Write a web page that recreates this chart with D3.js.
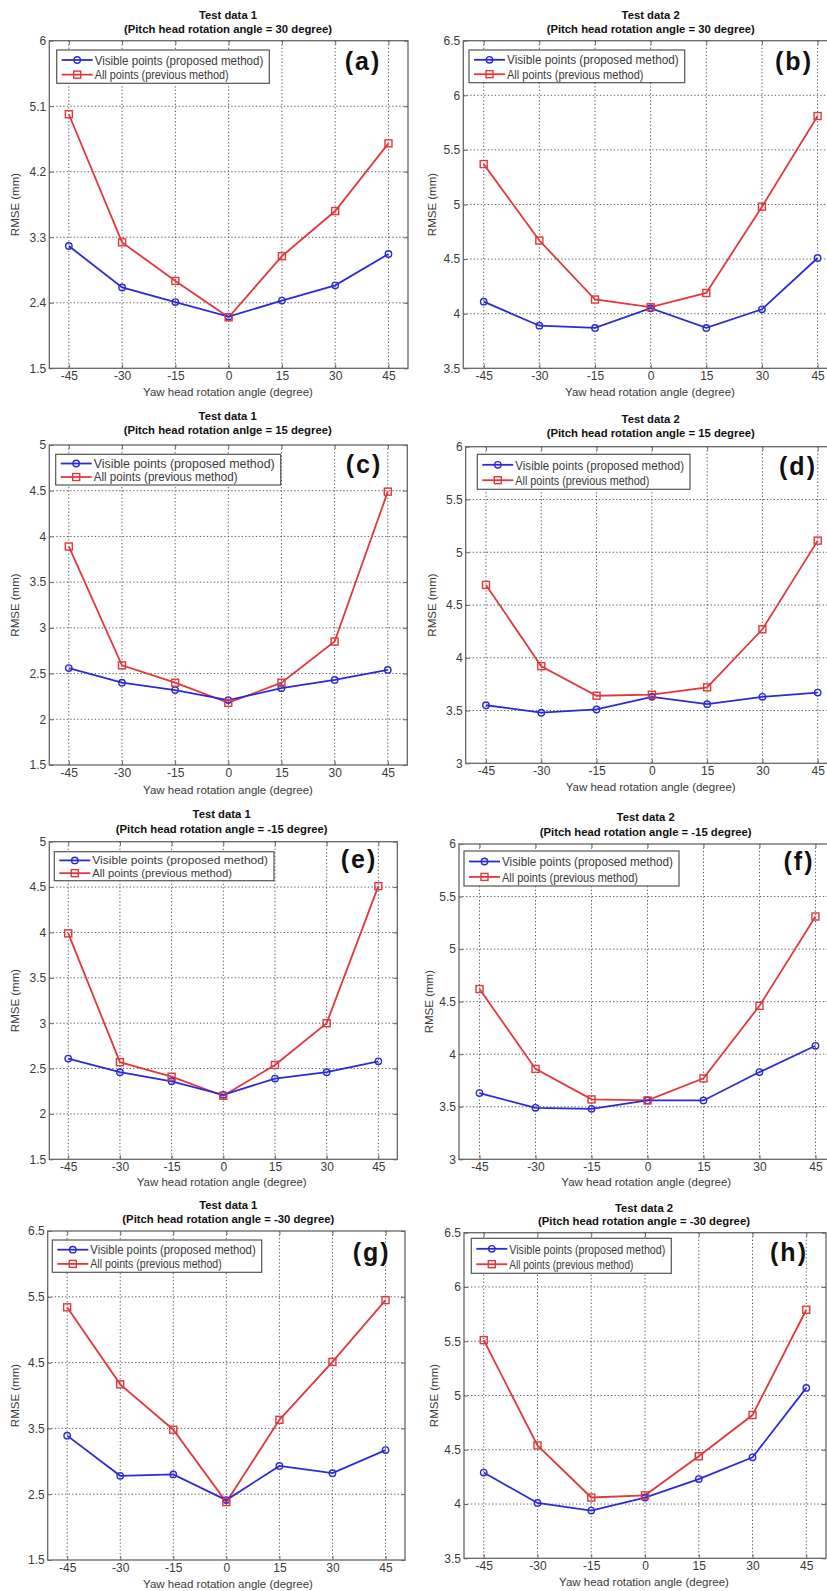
<!DOCTYPE html>
<html><head><meta charset="utf-8">
<script src="https://cdn.jsdelivr.net/npm/d3@7"></script>
<style>
html,body{margin:0;padding:0;background:#fff;}
svg{display:block;font-family:"Liberation Sans",Arial,sans-serif;}
</style></head>
<body>
<svg id="chart" width="827" height="1591"></svg>
<script>
// ---------- DATA ----------
const categories = [-45, -30, -15, 0, 15, 30, 45];
const xTickLabels = ["-45", "-30", "-15", "0", "15", "30", "45"];
const panelIds = ["a", "b", "c", "d", "e", "f", "g", "h"];
const seriesNames = ["Visible points (proposed method)", "All points (previous method)"];
const titleLine1 = ["Test data 1", "Test data 2", "Test data 1", "Test data 2", "Test data 1", "Test data 2", "Test data 1", "Test data 2"];
const titleLine2 = [
  "(Pitch head rotation angle = 30 degree)",
  "(Pitch head rotation angle = 30 degree)",
  "(Pitch head rotation anlge = 15 degree)",
  "(Pitch head rotation angle = 15 degree)",
  "(Pitch head rotation angle = -15 degree)",
  "(Pitch head rotation angle = -15 degree)",
  "(Pitch head rotation angle = -30 degree)",
  "(Pitch head rotation angle = -30 degree)"
];
const xLabel = "Yaw head rotation angle (degree)";
const yLabel = "RMSE (mm)";

const visible_a = [3.18, 2.61, 2.41, 2.21, 2.43, 2.64, 3.07];
const all_a     = [4.99, 3.23, 2.70, 2.20, 3.04, 3.66, 4.59];
const visible_b = [4.11, 3.89, 3.87, 4.05, 3.87, 4.04, 4.51];
const all_b     = [5.37, 4.67, 4.13, 4.06, 4.19, 4.98, 5.81];
const visible_c = [2.56, 2.40, 2.32, 2.21, 2.34, 2.43, 2.54];
const all_c     = [3.89, 2.59, 2.40, 2.18, 2.40, 2.85, 4.49];
const visible_d = [3.55, 3.48, 3.51, 3.63, 3.56, 3.63, 3.67];
const all_d     = [4.69, 3.92, 3.64, 3.65, 3.72, 4.27, 5.11];
const visible_e = [2.61, 2.46, 2.36, 2.21, 2.39, 2.46, 2.58];
const all_e     = [3.99, 2.57, 2.41, 2.20, 2.54, 3.00, 4.51];
const visible_f = [3.63, 3.49, 3.48, 3.56, 3.56, 3.83, 4.08];
const all_f     = [4.62, 3.86, 3.57, 3.56, 3.77, 4.46, 5.31];
const visible_g = [3.39, 2.78, 2.80, 2.41, 2.93, 2.82, 3.17];
const all_g     = [5.34, 4.17, 3.48, 2.38, 3.63, 4.51, 5.45];
const visible_h = [4.29, 4.01, 3.94, 4.06, 4.23, 4.43, 5.07];
const all_h     = [5.51, 4.54, 4.06, 4.08, 4.44, 4.82, 5.79];

const yTicks_a = [1.5, 2.4, 3.3, 4.2, 5.1, 6];
const yTicks_b = [3.5, 4, 4.5, 5, 5.5, 6, 6.5];
const yTicks_c = [1.5, 2, 2.5, 3, 3.5, 4, 4.5, 5];
const yTicks_d = [3, 3.5, 4, 4.5, 5, 5.5, 6];
const yTicks_e = [1.5, 2, 2.5, 3, 3.5, 4, 4.5, 5];
const yTicks_f = [3, 3.5, 4, 4.5, 5, 5.5, 6];
const yTicks_g = [1.5, 2.5, 3.5, 4.5, 5.5, 6.5];
const yTicks_h = [3.5, 4, 4.5, 5, 5.5, 6, 6.5];

const visibleSeries = [visible_a, visible_b, visible_c, visible_d, visible_e, visible_f, visible_g, visible_h];
const allSeries = [all_a, all_b, all_c, all_d, all_e, all_f, all_g, all_h];
const yTickSets = [yTicks_a, yTicks_b, yTicks_c, yTicks_d, yTicks_e, yTicks_f, yTicks_g, yTicks_h];

// ---------- LAYOUT (pixel geometry, separate from data) ----------
const layout = [
  {box:[49.3, 40.7, 408, 368.3], legend:[56.7, 50, 269.3, 83.3], letter:[363, 61], title:[228, 15, 29.3], xlab:[228, 391.5], ylabX:15},
  {box:[463.3, 40.7, 838, 368.3], legend:[469, 50, 684.7, 82.7], letter:[794, 61], title:[650.7, 15, 29.3], xlab:[650, 391.5], ylabX:432},
  {box:[49.3, 445, 407.3, 765], legend:[55.7, 454.3, 280.7, 485], letter:[364, 464], title:[227.7, 415.7, 430], xlab:[228, 789.5], ylabX:15},
  {box:[465.7, 446.7, 838, 763.3], legend:[477.3, 454.3, 690, 489.3], letter:[798, 466], title:[650.7, 419, 432.7], xlab:[650.7, 787], ylabX:432},
  {box:[49.3, 841.7, 397.3, 1159.3], legend:[54.3, 851.7, 274, 880.7], letter:[359, 859], title:[221.7, 814, 829], xlab:[221.7, 1182], ylabX:15},
  {box:[459, 844, 836, 1159.3], legend:[464, 851, 679, 886], letter:[799, 861], title:[645.7, 817.3, 831.7], xlab:[646.3, 1182], ylabX:429},
  {box:[47.7, 1231, 405, 1560], legend:[52.3, 1240, 261.7, 1272.3], letter:[371.7, 1252.5], title:[228.3, 1205, 1219.3], xlab:[228, 1584], ylabX:15},
  {box:[464, 1232.7, 826, 1558.3], legend:[471.3, 1238.3, 671.3, 1273.3], letter:[789, 1252.5], title:[644, 1208.3, 1221], xlab:[644, 1581.5], ylabX:434}
];

const BLUE = "#2b2bd6", RED = "#e0383c";
const svg = d3.select("#chart");
const fmt = d3.format("~g");

panelIds.forEach((id, i) => {
  const L = layout[i];
  const [bl, bt, br, bb] = L.box;
  const ticks = yTickSets[i];
  const x = d3.scaleLinear().domain([-50.5, 50.5]).range([bl, br]);
  const y = d3.scaleLinear().domain([d3.min(ticks), d3.max(ticks)]).range([bb, bt]);
  const g = svg.append("g");

  // grid
  g.append("g").selectAll("line").data(categories).join("line")
    .attr("x1", d => x(d)).attr("x2", d => x(d)).attr("y1", bt).attr("y2", bb)
    .attr("stroke", "#5a5a5a").attr("stroke-width", 1).attr("stroke-dasharray", "1.3,2.2");
  g.append("g").selectAll("line").data(ticks.slice(1, -1)).join("line")
    .attr("x1", bl).attr("x2", br).attr("y1", d => y(d)).attr("y2", d => y(d))
    .attr("stroke", "#5a5a5a").attr("stroke-width", 1).attr("stroke-dasharray", "1.3,2.2");

  // axes (inward ticks like MATLAB)
  const xAxB = d3.axisBottom(x).tickValues(categories).tickSize(-4).tickPadding(3)
    .tickFormat((d, k) => xTickLabels[k]);
  const gx = g.append("g").attr("transform", `translate(0,${bb})`).call(xAxB);
  gx.select(".domain").remove();
  gx.selectAll("line").attr("stroke", "#666");
  gx.selectAll("text").attr("font-size", 12).attr("fill", "#3a3a3a").attr("font-family", "Liberation Sans, Arial, sans-serif");
  const gxt = g.append("g").attr("transform", `translate(0,${bt})`).call(d3.axisTop(x).tickValues(categories).tickSize(-4).tickFormat(""));
  gxt.select(".domain").remove(); gxt.selectAll("line").attr("stroke", "#666");

  const yAx = d3.axisLeft(y).tickValues(ticks).tickSize(-4).tickPadding(3).tickFormat(fmt);
  const gy = g.append("g").attr("transform", `translate(${bl},0)`).call(yAx);
  gy.select(".domain").remove();
  gy.selectAll("line").attr("stroke", "#666");
  gy.selectAll("text").attr("font-size", 12).attr("fill", "#3a3a3a").attr("font-family", "Liberation Sans, Arial, sans-serif");
  const gyr = g.append("g").attr("transform", `translate(${br},0)`).call(d3.axisRight(y).tickValues(ticks).tickSize(-4).tickFormat(""));
  gyr.select(".domain").remove(); gyr.selectAll("line").attr("stroke", "#666");

  // box
  g.append("rect").attr("x", bl).attr("y", bt).attr("width", br - bl).attr("height", bb - bt)
    .attr("fill", "none").attr("stroke", "#666").attr("stroke-width", 1.3);

  // series
  const line = d3.line().x((d, k) => x(categories[k])).y(d => y(d));
  const vis = visibleSeries[i], all = allSeries[i];
  g.append("path").datum(all).attr("d", line).attr("fill", "none").attr("stroke", RED).attr("stroke-width", 1.8);
  g.append("path").datum(vis).attr("d", line).attr("fill", "none").attr("stroke", BLUE).attr("stroke-width", 1.8);
  g.append("g").selectAll("circle").data(vis).join("circle")
    .attr("cx", (d, k) => x(categories[k])).attr("cy", d => y(d)).attr("r", 3.2)
    .attr("fill", "none").attr("stroke", BLUE).attr("stroke-width", 1.4);
  g.append("g").selectAll("rect").data(all).join("rect")
    .attr("x", (d, k) => x(categories[k]) - 3.5).attr("y", d => y(d) - 3.5)
    .attr("width", 7).attr("height", 7)
    .attr("fill", "none").attr("stroke", RED).attr("stroke-width", 1.4);

  // titles
  g.append("text").attr("x", L.title[0]).attr("y", L.title[1]).attr("dy", "0.35em")
    .attr("text-anchor", "middle").attr("font-size", 11.3).attr("font-weight", "bold").attr("fill", "#111")
    .text(titleLine1[i]);
  g.append("text").attr("x", L.title[0]).attr("y", L.title[2]).attr("dy", "0.35em")
    .attr("text-anchor", "middle").attr("font-size", 11.3).attr("font-weight", "bold").attr("fill", "#111")
    .text(titleLine2[i]);

  // axis labels
  g.append("text").attr("x", L.xlab[0]).attr("y", L.xlab[1]).attr("dy", "0.35em")
    .attr("text-anchor", "middle").attr("font-size", 11.5).attr("fill", "#3a3a3a").text(xLabel);
  const ymid = (bt + bb) / 2;
  g.append("text").attr("transform", `translate(${L.ylabX},${ymid}) rotate(-90)`).attr("dy", "0.35em")
    .attr("text-anchor", "middle").attr("font-size", 11.5).attr("fill", "#3a3a3a").text(yLabel);

  // legend
  const [lx1, ly1, lx2, ly2] = L.legend;
  const lh = ly2 - ly1;
  g.append("rect").attr("x", lx1).attr("y", ly1).attr("width", lx2 - lx1).attr("height", lh)
    .attr("fill", "#fff").attr("stroke", "#555").attr("stroke-width", 1.2);
  const rows = [{c: BLUE, m: "circle", y: ly1 + lh * 0.3}, {c: RED, m: "square", y: ly1 + lh * 0.74}];
  rows.forEach((r, k) => {
    g.append("line").attr("x1", lx1 + 5).attr("x2", lx1 + 36).attr("y1", r.y).attr("y2", r.y)
      .attr("stroke", r.c).attr("stroke-width", 1.8);
    if (r.m === "circle") {
      g.append("circle").attr("cx", lx1 + 20.5).attr("cy", r.y).attr("r", 3.2)
        .attr("fill", "none").attr("stroke", r.c).attr("stroke-width", 1.4);
    } else {
      g.append("rect").attr("x", lx1 + 17).attr("y", r.y - 3.5).attr("width", 7).attr("height", 7)
        .attr("fill", "none").attr("stroke", r.c).attr("stroke-width", 1.4);
    }
    const tw = (lx2 - 6) - (lx1 + 38);
    g.append("text").attr("x", lx1 + 38).attr("y", r.y).attr("dy", "0.35em")
      .attr("font-size", lh * 0.39).attr("fill", "#3a3a3a")
      .attr("textLength", k === 0 ? tw : tw * 0.795).attr("lengthAdjust", "spacingAndGlyphs")
      .text(seriesNames[k]);
  });

  // panel letter
  g.append("text").attr("x", L.letter[0]).attr("y", L.letter[1]).attr("dy", "0.35em")
    .attr("text-anchor", "middle").attr("font-size", 25).attr("font-weight", "bold").attr("fill", "#111")
    .attr("letter-spacing", 2)
    .text(`(${id})`);
});
</script>
</body></html>
